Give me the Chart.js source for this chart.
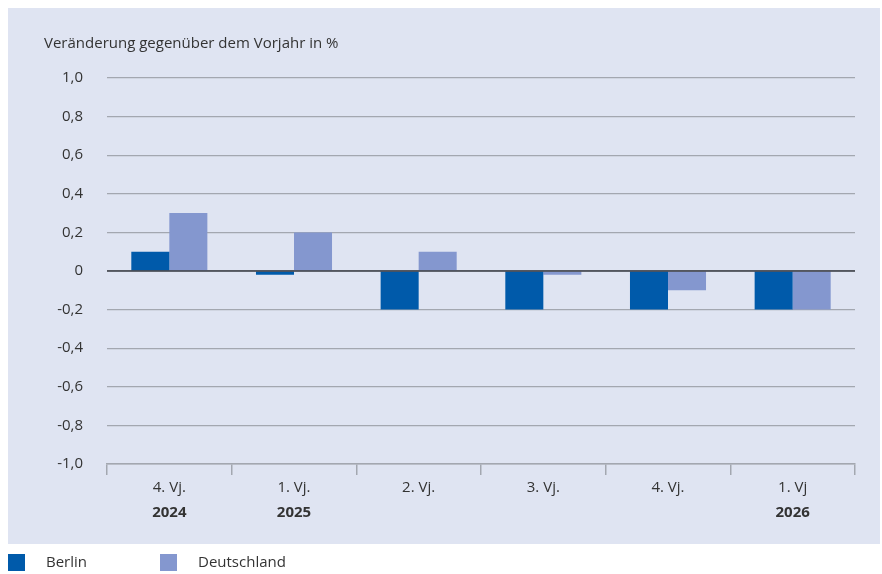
<!DOCTYPE html>
<html lang="de">
<head>
    <meta charset="UTF-8">
    <title>Veränderung gegenüber dem Vorjahr</title>
    <script src="https://cdn.jsdelivr.net/npm/chart.js"></script>
    <style>
        html, body {
            margin: 0;
            padding: 0;
            background: #ffffff;
        }
        #wrap {
            position: relative;
            width: 882px;
            height: 574px;
        }
    </style>
</head>
<body>
    <div id="wrap">
        <canvas id="chart" width="882" height="574"></canvas>
    </div>

    <script>
        // data
        const quarters = ['4. Vj.', '1. Vj.', '2. Vj.', '3. Vj.', '4. Vj.', '1. Vj'];
        const years = ['2024', '2025', '', '', '', '2026'];
        const berlin = [0.1, -0.02, -0.2, -0.2, -0.2, -0.2];
        const deutschland = [0.3, 0.2, 0.1, -0.02, -0.1, -0.2];
        const yTicks = [-1, -0.8, -0.6, -0.4, -0.2, 0, 0.2, 0.4, 0.6, 0.8, 1];
        const axisTitle = 'Veränderung gegenüber dem Vorjahr in %';

        const FONT = '"Open Sans", sans-serif';
        const TEXT = '#333333';
        const PANEL = '#dfe4f2';

        function fmt(v) {
            let r = Math.round(v * 10) / 10;
            if (r === 0) return '0';
            return r.toFixed(1).replace('.', ',');
        }

        const decor = {
            id: 'decor',
            beforeDraw(chart) {
                const c = chart.ctx;
                c.save();
                c.fillStyle = PANEL;
                c.fillRect(8, 8, 872, 536);
                c.fillStyle = TEXT;
                c.font = '15px ' + FONT;
                c.textBaseline = 'middle';
                c.textAlign = 'left';
                c.fillText(axisTitle, 44, 44);
                c.restore();
            },
            afterDatasetsDraw(chart) {
                const c = chart.ctx;
                const y = chart.scales.y.getPixelForValue(0);
                const a = chart.chartArea;
                c.save();
                c.strokeStyle = '#3a3d45';
                c.lineWidth = 1.5;
                c.beginPath();
                c.moveTo(a.left, y);
                c.lineTo(a.right, y);
                c.stroke();
                c.restore();
            },
            afterDraw(chart) {
                const c = chart.ctx;
                const x = chart.scales.x;
                c.save();
                c.fillStyle = TEXT;
                c.font = 'bold 15px ' + FONT;
                c.textAlign = 'center';
                c.textBaseline = 'middle';
                years.forEach((yr, i) => {
                    if (yr) c.fillText(yr, x.getPixelForValue(i), 513);
                });
                // legend
                c.font = '15px ' + FONT;
                c.textAlign = 'left';
                const pos = [[8, 46], [160, 198]];
                chart.data.datasets.forEach((ds, i) => {
                    c.fillStyle = ds.backgroundColor;
                    c.fillRect(pos[i][0], 554, 17, 17);
                    c.fillStyle = TEXT;
                    c.fillText(ds.label, pos[i][1], 563);
                });
                c.restore();
            }
        };

        new Chart(document.getElementById('chart'), {
            type: 'bar',
            data: {
                labels: quarters,
                datasets: [{
                    label: 'Berlin',
                    data: berlin,
                    backgroundColor: '#005aaa',
                    categoryPercentage: 0.61,
                    barPercentage: 1
                }, {
                    label: 'Deutschland',
                    data: deutschland,
                    backgroundColor: '#8497cf',
                    categoryPercentage: 0.61,
                    barPercentage: 1
                }]
            },
            options: {
                responsive: false,
                animation: false,
                layout: {
                    padding: { left: 8, right: 27, top: 78, bottom: 0 }
                },
                plugins: {
                    legend: { display: false },
                    tooltip: { enabled: false }
                },
                scales: {
                    x: {
                        afterFit: s => { s.height = 110; },
                        border: { display: true, color: '#a3a7b0', width: 1.5 },
                        grid: {
                            offset: true,
                            drawOnChartArea: false,
                            drawTicks: true,
                            tickLength: 11,
                            color: '#a3a7b0',
                            lineWidth: 1.5
                        },
                        ticks: {
                            color: TEXT,
                            font: { family: FONT, size: 15 },
                            padding: 4,
                            maxRotation: 0
                        }
                    },
                    y: {
                        min: -1,
                        max: 1,
                        afterFit: s => { s.width = 99; },
                        afterBuildTicks: s => { s.ticks = yTicks.map(v => ({ value: v })); },
                        border: { display: false },
                        grid: {
                            drawTicks: false,
                            color: '#a3a7b0',
                            lineWidth: 1.2
                        },
                        ticks: {
                            color: TEXT,
                            font: { family: FONT, size: 15 },
                            padding: 24,
                            callback: v => fmt(v)
                        }
                    }
                }
            },
            plugins: [decor]
        });
    </script>
</body>
</html>
